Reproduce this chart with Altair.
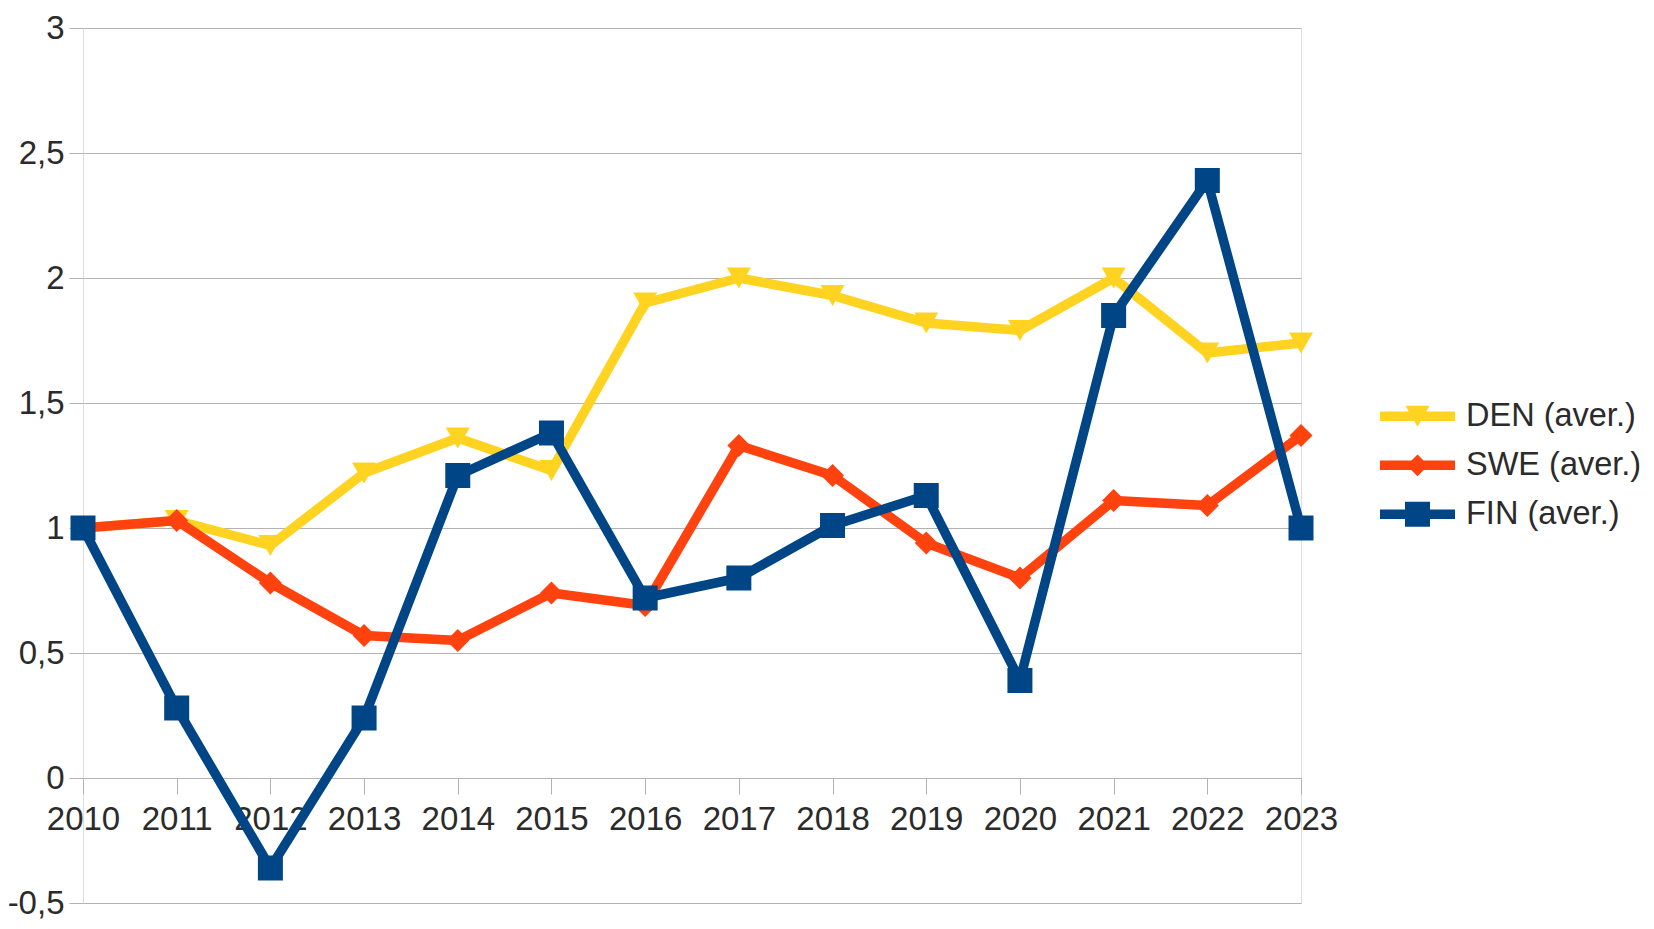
import altair as alt
import pandas as pd

years = list(range(2010, 2024))
series_names = ["DEN (aver.)", "SWE (aver.)", "FIN (aver.)"]
den = [1.00, 1.03, 0.93, 1.22, 1.36, 1.23, 1.90, 2.00, 1.93, 1.82, 1.79, 2.00, 1.70, 1.74]
swe = [1.00, 1.03, 0.78, 0.57, 0.55, 0.74, 0.69, 1.33, 1.21, 0.94, 0.80, 1.11, 1.09, 1.37]
fin = [1.00, 0.28, -0.36, 0.24, 1.21, 1.38, 0.72, 0.80, 1.01, 1.13, 0.39, 1.85, 2.39, 1.00]
y_ticks = [-0.5, 0, 0.5, 1, 1.5, 2, 2.5, 3]

colors = ["#ffd320", "#ff420e", "#004586"]
shapes = ["triangle-down", "diamond", "square"]
sizes = [576, 529, 625]

rows = []
for name, vals in zip(series_names, [den, swe, fin]):
    for yr, v in zip(years, vals):
        rows.append({"year": yr, "value": v, "series": name})
df = pd.DataFrame(rows)

W, H = 1218, 875
FONT = "Liberation Sans"
GRID = "#b3b3b3"
TXT = "#2b2b2b"

# legend symbols: a line segment with the series marker on it
bar = "M-1,-0.125L1,-0.125L1,0.125L-1,0.125Z"
legend_paths = [
    bar + "M-0.32,-0.28L0.32,-0.28L0,0.28Z",
    bar + "M0,-0.29L0.29,0L0,0.29L-0.29,0Z",
    bar + "M-0.333,-0.333L0.333,-0.333L0.333,0.333L-0.333,0.333Z",
]

legend = alt.Legend(
    title=None,
    orient="none",
    legendX=1297,
    legendY=364,
    padding=0,
    labelFont=FONT,
    labelFontSize=32.5,
    labelColor=TXT,
    labelOffset=11,
    labelLimit=400,
    rowPadding=0,
    clipHeight=48.5,
    symbolSize=5625,
    symbolStrokeWidth=0,
    symbolOpacity=1,
)

x_axis = alt.Axis(
    title=None,
    orient="bottom",
    offset=-(H / 3.5 * 0.5),
    labelAngle=0,
    labelFont=FONT,
    labelFontSize=33,
    labelColor=TXT,
    labelPadding=9,
    tickColor=GRID,
    tickSize=16,
    domainColor=GRID,
    grid=False,
)
y_axis = alt.Axis(
    title=None,
    values=y_ticks,
    labelExpr="replace(toString(datum.value), '.', ',')",
    labelFont=FONT,
    labelFontSize=33,
    labelColor=TXT,
    labelPadding=5,
    tickColor=GRID,
    tickSize=14,
    domain=False,
    grid=True,
    gridColor=GRID,
    gridWidth=1,
)

color_scale = alt.Scale(domain=series_names, range=colors)

base = alt.Chart(df).encode(
    x=alt.X("year:O", scale=alt.Scale(type="point", padding=0), axis=x_axis),
    y=alt.Y("value:Q", scale=alt.Scale(domain=[-0.5, 3], nice=False, zero=False), axis=y_axis),
    color=alt.Color("series:N", scale=color_scale, legend=None),
)

# legend-only layer first (no rows drawn; the legend comes from the explicit scale domains)
legend_layer = base.transform_filter("false").mark_point(filled=True, opacity=1, strokeWidth=0).encode(
    color=alt.Color("series:N", scale=color_scale, legend=legend),
    shape=alt.Shape("series:N", scale=alt.Scale(domain=series_names, range=legend_paths), legend=legend),
)
layers = [legend_layer]
for name, shp, sz in zip(series_names, shapes, sizes):
    b = base.transform_filter(alt.datum.series == name)
    layers.append(b.mark_line(strokeWidth=9.5, strokeJoin="round"))
    layers.append(b.mark_point(shape=shp, size=sz, filled=True, opacity=1, strokeWidth=0))

chart = alt.layer(*layers).properties(
    width=W,
    height=H,
    autosize=alt.AutoSizeParams(type="none"),
    padding={"left": 75, "top": 20, "right": 345, "bottom": 18},
).configure_view(stroke=GRID, strokeWidth=1).configure(background="white")

chart.save("out.html", embed_options={"renderer": "svg", "actions": False})
